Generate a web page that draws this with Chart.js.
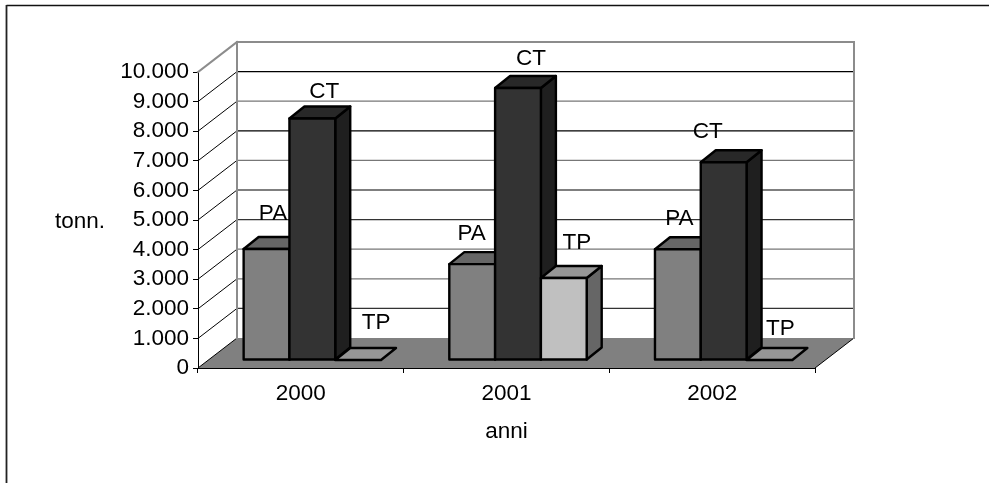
<!DOCTYPE html>
<html><head><meta charset="utf-8">
<style>html,body{margin:0;padding:0;background:#fff}canvas{display:block}</style>
<script src="https://cdn.jsdelivr.net/npm/chart.js@4"></script>
</head><body><canvas id="c" width="989" height="483"></canvas>
<script>
const categories = ['2000', '2001', '2002'];
const seriesNames = ['PA', 'CT', 'TP'];
const valuesPA = [3750, 3240, 3740];
const valuesCT = [8160, 9190, 6680];
const valuesTP = [0, 2770, 0];
const yTicks = [0,1000,2000,3000,4000,5000,6000,7000,8000,9000,10000];

const FAMILY = '"Liberation Sans", Arial, sans-serif';
const SIZE = 22.5;
const FONT = SIZE+'px '+FAMILY;
const WALL = {dx: 39, dy: -30};
const SHIFT = {dx: 11.5, dy: -8};
const DEPTH = {dx: 15, dy: -12};
const faces = [
  {front:'#808080', top:'#666666', side:'#4d4d4d'},
  {front:'#333333', top:'#282828', side:'#1f1f1f'},
  {front:'#c0c0c0', top:'#969696', side:'#666666'}
];
const gridShade = {1000:'#333',2000:'#777',3000:'#777',4000:'#333',5000:'#000',6000:'#777',7000:'#000',8000:'#777',9000:'#000'};
const labelNudge = [
  [[6.5,-29],[12,-20],[18,-31]],
  [[-0.5,-24],[13,-23],[13,-29]],
  [[1.5,-24],[-16,-24],[11,-25]]
];

function poly(ctx, pts, fill, stroke, lw){
  ctx.beginPath();
  pts.forEach((p,i)=> i?ctx.lineTo(p[0],p[1]):ctx.moveTo(p[0],p[1]));
  ctx.closePath();
  if(fill){ctx.fillStyle=fill;ctx.fill();}
  if(stroke){ctx.strokeStyle=stroke;ctx.lineWidth=lw;ctx.lineJoin='round';ctx.stroke();}
}
function line(ctx,a,b,c,d,color,lw){
  ctx.beginPath();ctx.moveTo(a,b);ctx.lineTo(c,d);ctx.strokeStyle=color;ctx.lineWidth=lw;ctx.stroke();
}

const scene = {
  id:'scene',
  beforeDraw(chart){
    const ctx=chart.ctx;
    ctx.save();
    line(ctx,6.5,5.5,989,5.5,'#111',1.6);
    line(ctx,6.5,5,6.5,483,'#222',1.8);
    ctx.restore();
  },
  beforeDatasetsDraw(chart){
    const ctx=chart.ctx, y=chart.scales.y, a=chart.chartArea;
    const L=a.left,R=a.right,dx=WALL.dx,dy=WALL.dy;
    const y0=y.getPixelForValue(0), yT=y.getPixelForValue(10000);
    ctx.save();
    // floor
    poly(ctx,[[L,y0],[R,y0],[R+dx,y0+dy],[L+dx,y0+dy]],'#808080');
    line(ctx,R,y0,R+dx,y0+dy,'#000',1);
    // grid on side and back walls
    yTicks.forEach(v=>{
      if(v===0||v===10000)return;
      const p=y.getPixelForValue(v);
      line(ctx,L+dx,p+dy,R+dx,p+dy,gridShade[v],1.2);
    });
    yTicks.forEach(v=>{
      if(v===10000)return;
      const p=y.getPixelForValue(v);
      line(ctx,L,p,L+dx,p+dy,'#000',1);
    });
    // wall edges
    ctx.lineCap='square';
    line(ctx,L,yT,L+dx,yT+dy,'#8c8c8c',2);
    line(ctx,L+dx,yT+dy,R+dx,yT+dy,'#8c8c8c',2);
    line(ctx,L+dx,yT+dy,L+dx,y0+dy,'#8c8c8c',2);
    line(ctx,R+dx,yT+dy,R+dx,y0+dy,'#8c8c8c',2);
    ctx.lineCap='butt';
    // bars, left to right within each group, so later bars overlap earlier depth
    const LW=2.4;
    for(let c=0;c<categories.length;c++){
      for(let d=0;d<seriesNames.length;d++){
        const meta=chart.getDatasetMeta(d), el=meta.data[c];
        const l=el.x-el.width/2, r=el.x+el.width/2, t=el.y, b=el.base, f=faces[d];
        const D=DEPTH;
        ctx.save();
        ctx.translate(SHIFT.dx,SHIFT.dy);
        if(b-t>0.5) poly(ctx,[[r,t],[r+D.dx,t+D.dy],[r+D.dx,b+D.dy],[r,b]],f.side,'#000',LW);
        poly(ctx,[[l,t],[l+D.dx,t+D.dy],[r+D.dx,t+D.dy],[r,t]],b-t>0.5?f.top:'#969696','#000',LW);
        el.draw(ctx);
        if(b-t>0.5) poly(ctx,[[l,t],[r,t],[r,b],[l,b]],null,'#000',LW);
        ctx.restore();
      }
    }
    // value labels
    ctx.font=FONT;ctx.fillStyle='#000';ctx.textAlign='center';ctx.textBaseline='alphabetic';
    for(let c=0;c<categories.length;c++){
      for(let d=0;d<seriesNames.length;d++){
        const el=chart.getDatasetMeta(d).data[c], n=labelNudge[c][d];
        ctx.fillText(seriesNames[d],el.x+SHIFT.dx+n[0],el.y+SHIFT.dy+n[1]);
      }
    }
    ctx.restore();
    return false;
  },
  afterDraw(chart){
    const ctx=chart.ctx;
    ctx.save();
    ctx.font=FONT;ctx.fillStyle='#000';ctx.textAlign='center';ctx.textBaseline='middle';
    ctx.fillText('tonn.',80,222);
    ctx.restore();
  }
};

new Chart(document.getElementById('c'),{
  type:'bar',
  data:{
    labels:categories,
    datasets:[
      {label:seriesNames[0],data:valuesPA,backgroundColor:faces[0].front},
      {label:seriesNames[1],data:valuesCT,backgroundColor:faces[1].front},
      {label:seriesNames[2],data:valuesTP,backgroundColor:faces[2].front}
    ]
  },
  options:{
    responsive:false,animation:false,devicePixelRatio:1,
    categoryPercentage:0.668,barPercentage:1,
    layout:{padding:{left:0,right:174,top:72,bottom:38}},
    plugins:{legend:{display:false},tooltip:{enabled:false},title:{display:false}},
    scales:{
      x:{
        afterFit(s){s.height=77;},
        border:{color:'#000',width:1},
        grid:{drawOnChartArea:false,color:'#000',tickLength:5,tickWidth:1},
        ticks:{color:'#000',font:{family:FAMILY,size:SIZE},padding:7,maxRotation:0},
        title:{display:true,text:'anni',color:'#000',font:{family:FAMILY,size:SIZE},padding:0}
      },
      y:{
        min:0,max:10000,
        afterFit(s){s.width=198;},
        afterBuildTicks(s){s.ticks=yTicks.map(v=>({value:v}));},
        border:{color:'#000',width:1},
        grid:{drawOnChartArea:false,color:'#000',tickLength:5,tickWidth:1},
        ticks:{color:'#000',font:{family:FAMILY,size:SIZE},padding:4,autoSkip:false,
          callback:v=>String(v).replace(/\B(?=(\d{3})+$)/g,'.')}
      }
    }
  },
  plugins:[scene]
});
</script></body></html>
